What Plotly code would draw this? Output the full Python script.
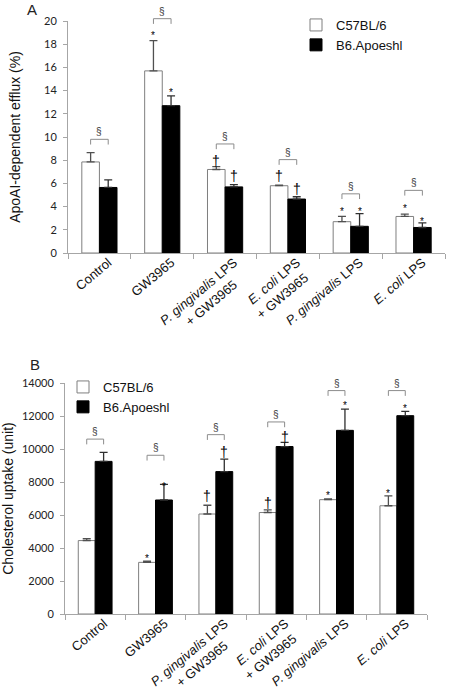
import plotly.graph_objects as go

# ---------------- data ----------------
categories = ["Control", "GW3965", "Pg LPS + GW3965", "Ec LPS + GW3965", "Pg LPS", "Ec LPS"]
NB = "\u00a0"
tick_labels = [
    "Control",
    "GW3965",
    "<i>P. gingivalis</i> LPS<br>+ GW3965" + NB * 4,
    "<i>E. coli</i> LPS<br>+ GW3965" + NB * 1,
    "<i>P. gingivalis</i> LPS",
    "<i>E. coli</i> LPS",
]
series_names = ["C57BL/6", "B6.Apoeshl"]

# Panel A: ApoAI-dependent efflux (%)
efflux_c57 = [7.85, 15.7, 7.2, 5.8, 2.7, 3.15]
efflux_c57_err = [0.8, 2.6, 0.25, 0.05, 0.45, 0.2]
efflux_apo = [5.65, 12.7, 5.7, 4.65, 2.3, 2.2]
efflux_apo_err = [0.65, 0.85, 0.2, 0.2, 1.1, 0.4]

# Panel B: Cholesterol uptake (unit)
uptake_c57 = [4450, 3130, 6060, 6150, 6930, 6560]
uptake_c57_err = [110, 80, 530, 160, 40, 600]
uptake_apo = [9250, 6910, 8630, 10150, 11130, 12020]
uptake_apo_err = [550, 950, 760, 250, 1290, 260]

# significance marks
marks_c57 = ["", "*", "\u2020", "\u2020", "*", "*"]
marks_apo = ["", "*", "\u2020", "\u2020", "*", "*"]
marks_c57_B = ["", "*", "\u2020", "\u2020", "*", "*"]
marks_apo_B = ["", "*", "\u2020", "\u2020", "*", "*"]

# annotation levels (layout)
efflux_bracket_y = [9.8, 20.2, 9.4, 8.05, 5.1, 5.4]
efflux_mark_y_c57 = [None, 19.0, 7.95, 6.6, 3.8, 4.1]
efflux_mark_y_apo = [None, 14.1, 6.6, 5.5, 3.8, 2.95]
uptake_bracket_y = [10600, 9620, 10870, 11640, 13540, 13540]
uptake_mark_y_c57 = [None, 3520, 7130, 6700, 7390, 7470]
uptake_mark_y_apo = [None, 7900, 9840, 10700, 12790, 12650]

# ---------------- figure ----------------
W, H = 450, 689
FONT = "Liberation Sans, Arial, sans-serif"
TICKFONT = "Lato, Carlito, sans-serif"
AXCOL = "#a6a6a6"
OFF = 0.14  # half distance between the two bars of a group (category units)

fig = go.Figure()

def add_bars(xa, ya, v1, e1, v2, e2, legend, showleg):
    fig.add_trace(go.Bar(
        x=categories, y=v1, name=series_names[0], xaxis=xa, yaxis=ya,
        marker=dict(color="white", line=dict(color="#7f7f7f", width=1)),
        error_y=dict(type="data", symmetric=False, array=e1, arrayminus=[0] * len(e1),
                     color="#505050", thickness=1.3, width=4),
        legend=legend, showlegend=showleg,
    ))
    fig.add_trace(go.Bar(
        x=categories, y=v2, name=series_names[1], xaxis=xa, yaxis=ya,
        marker=dict(color="black", line=dict(color="black", width=1)),
        error_y=dict(type="data", symmetric=False, array=e2, arrayminus=[0] * len(e2),
                     color="#303030", thickness=1.3, width=4),
        legend=legend, showlegend=showleg,
    ))

add_bars("x", "y", efflux_c57, efflux_c57_err, efflux_apo, efflux_apo_err, "legend", True)
add_bars("x2", "y2", uptake_c57, uptake_c57_err, uptake_apo, uptake_apo_err, "legend2", True)

shapes = []
annotations = []

def add_sig(xref, yref, ymax, tick_len, bracket_y, m1, y1, m2, y2):
    yd = yref + " domain"
    for i in range(len(categories)):
        b = bracket_y[i]
        x0, x1 = i - OFF, i + OFF
        line = dict(color="#8c8c8c", width=1)
        shapes.append(dict(type="line", xref=xref, yref=yd, x0=x0, x1=x1,
                           y0=b / ymax, y1=b / ymax, line=line))
        shapes.append(dict(type="line", xref=xref, yref=yd, x0=x0, x1=x0,
                           y0=b / ymax, y1=(b - tick_len) / ymax, line=line))
        shapes.append(dict(type="line", xref=xref, yref=yd, x0=x1, x1=x1,
                           y0=b / ymax, y1=(b - tick_len) / ymax, line=line))
        annotations.append(dict(text="\u00a7", xref=xref, yref=yd, x=i, y=b / ymax,
                                yanchor="bottom", yshift=0, showarrow=False,
                                font=dict(family=FONT, size=10, color="#333")))
        for mk, yy, dx in ((m1[i], y1[i], -OFF), (m2[i], y2[i], OFF)):
            if mk:
                size = 10 if mk == "*" else 14
                shift = -3 if mk == "*" else 0
                annotations.append(dict(text=mk, xref=xref, yref=yd, x=i + dx, y=yy / ymax,
                                        yanchor="middle", yshift=shift, showarrow=False,
                                        opacity=0.99,
                                        font=dict(family=FONT, size=size, color="#000")))

add_sig("x", "y", 20, 0.45, efflux_bracket_y, marks_c57, efflux_mark_y_c57, marks_apo, efflux_mark_y_apo)
add_sig("x2", "y2", 14000, 320, uptake_bracket_y, marks_c57_B, uptake_mark_y_c57, marks_apo_B, uptake_mark_y_apo)

annotations.append(dict(text="A", xref="paper", yref="paper", x=32 / W, y=1 - 9 / H,
                        xanchor="center", yanchor="middle",
                        showarrow=False, font=dict(family=FONT, size=15, color="#222")))
annotations.append(dict(text="B", xref="paper", yref="paper", x=35 / W, y=1 - 364 / H,
                        xanchor="center", yanchor="middle",
                        showarrow=False, font=dict(family=FONT, size=15, color="#222")))

xaxis_common = dict(
    type="category", tickvals=categories, ticktext=tick_labels, tickangle=-40,
    showline=True, linecolor=AXCOL, linewidth=1, ticks="outside", tickson="boundaries",
    ticklen=5, tickcolor=AXCOL, showgrid=False, zeroline=False, automargin=False,
    ticklabelshift=9, ticklabelstandoff=-4,
    tickfont=dict(family=FONT, size=13, color="#111"),
)
yaxis_common = dict(
    showline=True, linecolor=AXCOL, linewidth=1, ticks="outside", ticklen=4,
    tickcolor=AXCOL, showgrid=False, zeroline=False, automargin=False, tickformat="d",
    ticklabelstandoff=4,
    tickfont=dict(family=TICKFONT, size=11, color="#222"),
)

fig.update_layout(
    width=W, height=H,
    margin=dict(l=0, r=0, t=0, b=0),
    paper_bgcolor="white", plot_bgcolor="white",
    barmode="group", bargap=0.44, bargroupgap=0,
    xaxis=dict(xaxis_common, domain=[68 / W, 445 / W], anchor="y"),
    yaxis=dict(yaxis_common, domain=[1 - 253 / H, 1 - 21 / H], range=[0, 20], dtick=2,
               anchor="x",
               title=dict(text="ApoAI-dependent efflux (%)", standoff=20,
                          font=dict(family=FONT, size=14, color="#111"))),
    xaxis2=dict(xaxis_common, domain=[65 / W, 427 / W], anchor="y2"),
    yaxis2=dict(yaxis_common, domain=[1 - 614 / H, 1 - 383 / H], range=[0, 14000], dtick=2000,
                anchor="x2",
                title=dict(text="Cholesterol uptake (unit)", standoff=8,
                           font=dict(family=FONT, size=14, color="#111"))),
    legend=dict(x=296 / W, y=1 - 10 / H, xanchor="left", yanchor="top",
                bgcolor="rgba(0,0,0,0)", font=dict(family=FONT, size=13, color="#111"),
                itemwidth=30, tracegroupgap=0),
    legend2=dict(x=63 / W, y=1 - 372 / H, xanchor="left", yanchor="top",
                 bgcolor="rgba(0,0,0,0)", font=dict(family=FONT, size=13, color="#111"),
                 itemwidth=30, tracegroupgap=0),
    shapes=shapes,
    annotations=annotations,
    showlegend=True,
)

fig.write_html("out.html", config={"displayModeBar": False},
               post_script="document.body.style.margin='0';")
